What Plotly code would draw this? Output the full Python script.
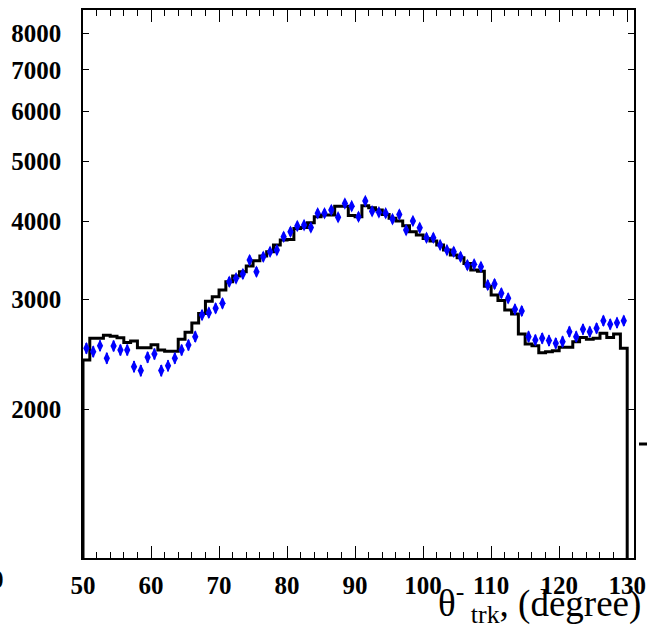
import plotly.graph_objects as go

# ---- data ----
bin_start = 50.0
bin_width = 1.0

data_counts = [2506, 2475, 2530, 2416, 2528, 2490, 2490, 2342, 2308, 2424,
               2454, 2308, 2350, 2416, 2490, 2536, 2616, 2834, 2858, 2905,
               2958, 3204, 3244, 3296, 3470, 3324, 3512, 3578, 3600, 3782,
               3852, 3934, 3948, 3914, 4124, 4124, 4174, 4064, 4276, 4234,
               4072, 4314, 4156, 4138, 4124, 4036, 4106, 3876, 4008, 3908,
               3768, 3768, 3668, 3600, 3578, 3512, 3406, 3416, 3386, 3166,
               3177, 3070, 3014, 2894, 2876, 2616, 2584, 2600, 2578, 2553,
               2568, 2664, 2616, 2688, 2664, 2698, 2774, 2738, 2754, 2774]

mc_counts = [2400, 2600, 2600, 2630, 2620, 2605, 2560, 2575, 2510, 2510,
             2540, 2490, 2480, 2480, 2590, 2660, 2750, 2850, 2980, 3030,
             3108, 3204, 3272, 3324, 3394, 3460, 3522, 3578, 3668, 3736,
             3745, 3900, 3914, 3982, 4072, 4096, 4096, 4234, 4234, 4090,
             4072, 4240, 4210, 4174, 4106, 4048, 4008, 3938, 3852, 3806,
             3756, 3722, 3668, 3600, 3534, 3500, 3428, 3346, 3330, 3150,
             3050, 2988, 2886, 2844, 2642, 2546, 2530, 2466, 2475, 2484,
             2516, 2516, 2568, 2608, 2590, 2600, 2648, 2608, 2642, 2506]

x_ticks = [50, 60, 70, 80, 90, 100, 110, 120, 130]
y_ticks = [2000, 3000, 4000, 5000, 6000, 7000, 8000]
y_tick_labels = ["2000", "3000", "4000", "5000", "6000", "7000", "8000"]

# ---- derived ----
n = len(data_counts)
centers = [bin_start + bin_width * (i + 0.5) for i in range(n)]
errors = [c ** 0.5 for c in data_counts]
edges = [bin_start + bin_width * i for i in range(len(mc_counts) + 1)]
floor_val = 100
step_x = [edges[0]] + edges[:-1] + [edges[-1], edges[-1]]
step_y = [floor_val] + mc_counts + [mc_counts[-1], floor_val]

FONT = "Liberation Serif"

fig = go.Figure()
fig.add_trace(go.Scatter(
    x=step_x, y=step_y, mode="lines", line=dict(color="black", width=3, shape="hv"),
    showlegend=False, hoverinfo="skip", cliponaxis=True))
fig.add_trace(go.Scatter(
    x=centers, y=data_counts, mode="markers",
    marker=dict(symbol="diamond-tall", size=9, color="#0000ff", line=dict(width=0)),
    error_y=dict(type="data", array=errors, visible=True, color="#0000ff", thickness=2, width=0),
    showlegend=False))

fig.update_layout(
    width=647, height=635,
    margin=dict(l=83, r=13, t=10, b=77),
    paper_bgcolor="white", plot_bgcolor="white",
    font=dict(family=FONT, size=20, color="black"),
)
fig.update_xaxes(
    range=[50, 131], tickmode="array", tickvals=x_ticks, automargin=False,
    ticks="inside", ticklen=12, tickwidth=1, tickcolor="black",
    showline=True, linecolor="black", linewidth=1.5, mirror="ticks",
    showgrid=False, zeroline=False,
    tickfont=dict(family=FONT, size=25, color="black", weight="bold"),
    ticklabelstandoff=4,
    minor=dict(dtick=2, tick0=50, ticks="inside", ticklen=6, tickcolor="black", showgrid=False),
)
fig.update_yaxes(
    type="log", range=[3.063, 3.941], tickmode="array", automargin=False,
    tickvals=y_ticks, ticktext=y_tick_labels,
    ticks="inside", ticklen=6, tickwidth=1, tickcolor="black",
    showline=True, linecolor="black", linewidth=1.5, mirror="ticks",
    showgrid=False, zeroline=False,
    tickfont=dict(family=FONT, size=25, color="black", weight="bold"),
    ticklabelstandoff=15,
)

# x-axis title
fig.add_annotation(
    text="θ<sup>-</sup><sub> trk</sub>, (degree)",
    xref="paper", yref="paper", x=(643 - 83) / 551, y=(558 - 575) / 548,
    xanchor="right", yanchor="top", showarrow=False,
    font=dict(family=FONT, size=37, color="black"),
)
# clipped neighbour-panel fragments
fig.add_annotation(
    text="0", xref="paper", yref="paper", x=(6 - 83) / 551, y=(558 - 564) / 548,
    xanchor="right", yanchor="top", showarrow=False,
    font=dict(family=FONT, size=25, color="black", weight="bold"),
)
fig.add_shape(type="line", xref="paper", yref="paper",
              x0=(639 - 83) / 551, x1=(647 - 83) / 551,
              y0=(558 - 444) / 548, y1=(558 - 444) / 548,
              line=dict(color="black", width=3))

fig.write_html("out.html", config={"displayModeBar": False},
               post_script="document.body.style.margin='0';document.body.style.overflow='hidden';")
